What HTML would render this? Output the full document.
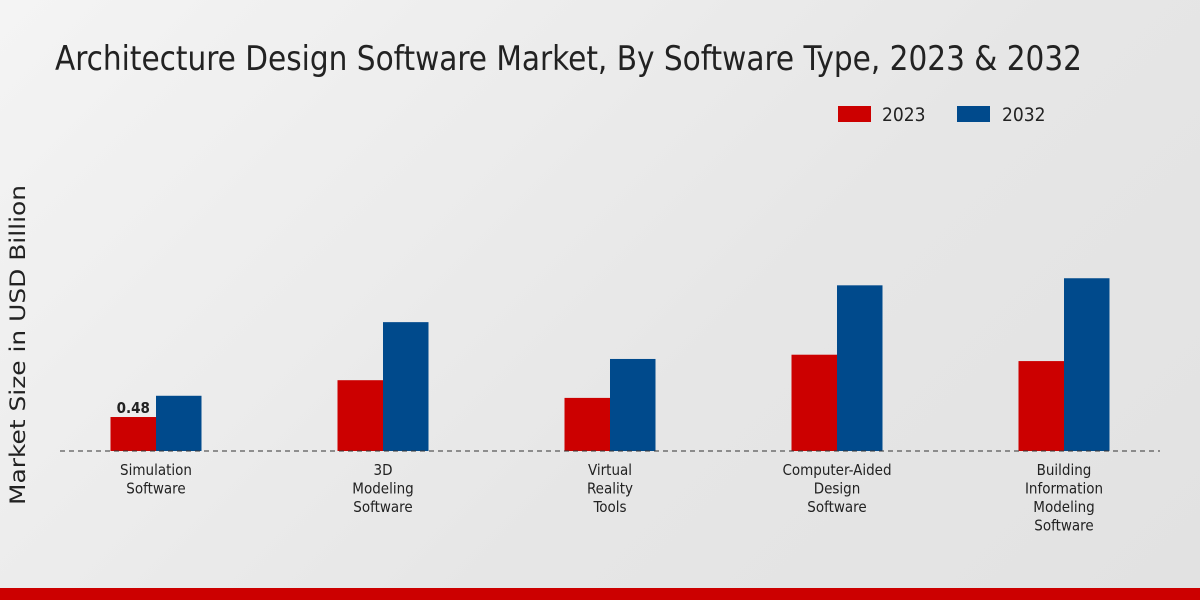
<!DOCTYPE html>
<html><head><meta charset="utf-8">
<style>
html,body{margin:0;padding:0;width:1200px;height:600px;overflow:hidden;}
body{background:linear-gradient(135deg,#f4f4f4 0%,#e6e6e6 60%,#e2e2e2 100%);font-family:"DejaVu Sans Condensed","Liberation Sans",sans-serif;}
svg text{font-family:"DejaVu Sans Condensed","DejaVu Sans","Liberation Sans",sans-serif;}
</style></head>
<body>
<svg id="chart" width="1200" height="600" xmlns="http://www.w3.org/2000/svg">
  <text x="55" y="70" font-size="34" fill="#222" textLength="1027" lengthAdjust="spacingAndGlyphs">Architecture Design Software Market, By Software Type, 2023 &amp; 2032</text>
  <g>
    <rect x="838" y="106" width="33" height="16" fill="#cc0000"/>
    <text x="882" y="121" font-size="19" fill="#222">2023</text>
    <rect x="957" y="106" width="33" height="16" fill="#004a8c"/>
    <text x="1002" y="121" font-size="19" fill="#222">2032</text>
  </g>
  <text transform="translate(25,345) rotate(-90)" text-anchor="middle" font-size="21" fill="#222" style="font-family:'DejaVu Sans',sans-serif" textLength="320" lengthAdjust="spacingAndGlyphs">Market Size in USD Billion</text>
  <g id="bars"></g>
  <line x1="60" y1="451" x2="1160" y2="451" stroke="#333" stroke-width="1" stroke-dasharray="5,4"/>
  <g id="xlabels"></g>
  <rect x="0" y="588" width="1200" height="12" fill="#cc0000"/>
</svg>
<script>
const categories = [["Simulation","Software"],["3D","Modeling","Software"],["Virtual","Reality","Tools"],["Computer-Aided","Design","Software"],["Building","Information","Modeling","Software"]];
const values2023 = [0.48, 1.0, 0.75, 1.36, 1.27];
const values2032 = [0.78, 1.82, 1.3, 2.34, 2.44];
const valueLabels2023 = ["0.48", "", "", "", ""];

const NS = "http://www.w3.org/2000/svg";
const baseY = 451, pxPerUnit = 70.8, firstCenter = 156, step = 227, barW = 45.5;
function xCenter(i){ return firstCenter + i*step; }
function yScale(v){ return baseY - v*pxPerUnit; }
const bars = document.getElementById('bars');
const xl = document.getElementById('xlabels');
categories.forEach((cat,i)=>{
  const cx = xCenter(i);
  [[values2023,'#cc0000',cx-barW,'2023'],[values2032,'#004a8c',cx,'2032']].forEach(([arr,col,x,yr])=>{
    const r = document.createElementNS(NS,'rect');
    
    
    r.setAttribute('x', x); r.setAttribute('y', yScale(arr[i]));
    r.setAttribute('width', barW); r.setAttribute('height', baseY - yScale(arr[i]));
    r.setAttribute('fill', col);
    bars.appendChild(r);
  });
  if (valueLabels2023[i]) {
    const t = document.createElementNS(NS,'text');
    
    
    t.setAttribute('x', cx - barW/2); t.setAttribute('y', yScale(values2023[i]) - 4);
    t.setAttribute('text-anchor','middle'); t.setAttribute('font-size','15'); t.setAttribute('font-weight','bold'); t.setAttribute('fill','#222');
    t.textContent = valueLabels2023[i];
    bars.appendChild(t);
  }
  cat.forEach((line,j)=>{
    const t = document.createElementNS(NS,'text');
    
    
    t.setAttribute('x', cx); t.setAttribute('y', 475 + j*18.5);
    t.setAttribute('text-anchor','middle'); t.setAttribute('font-size','15'); t.setAttribute('fill','#222');
    t.textContent = line;
    xl.appendChild(t);
  });
});
</script>
</body></html>
